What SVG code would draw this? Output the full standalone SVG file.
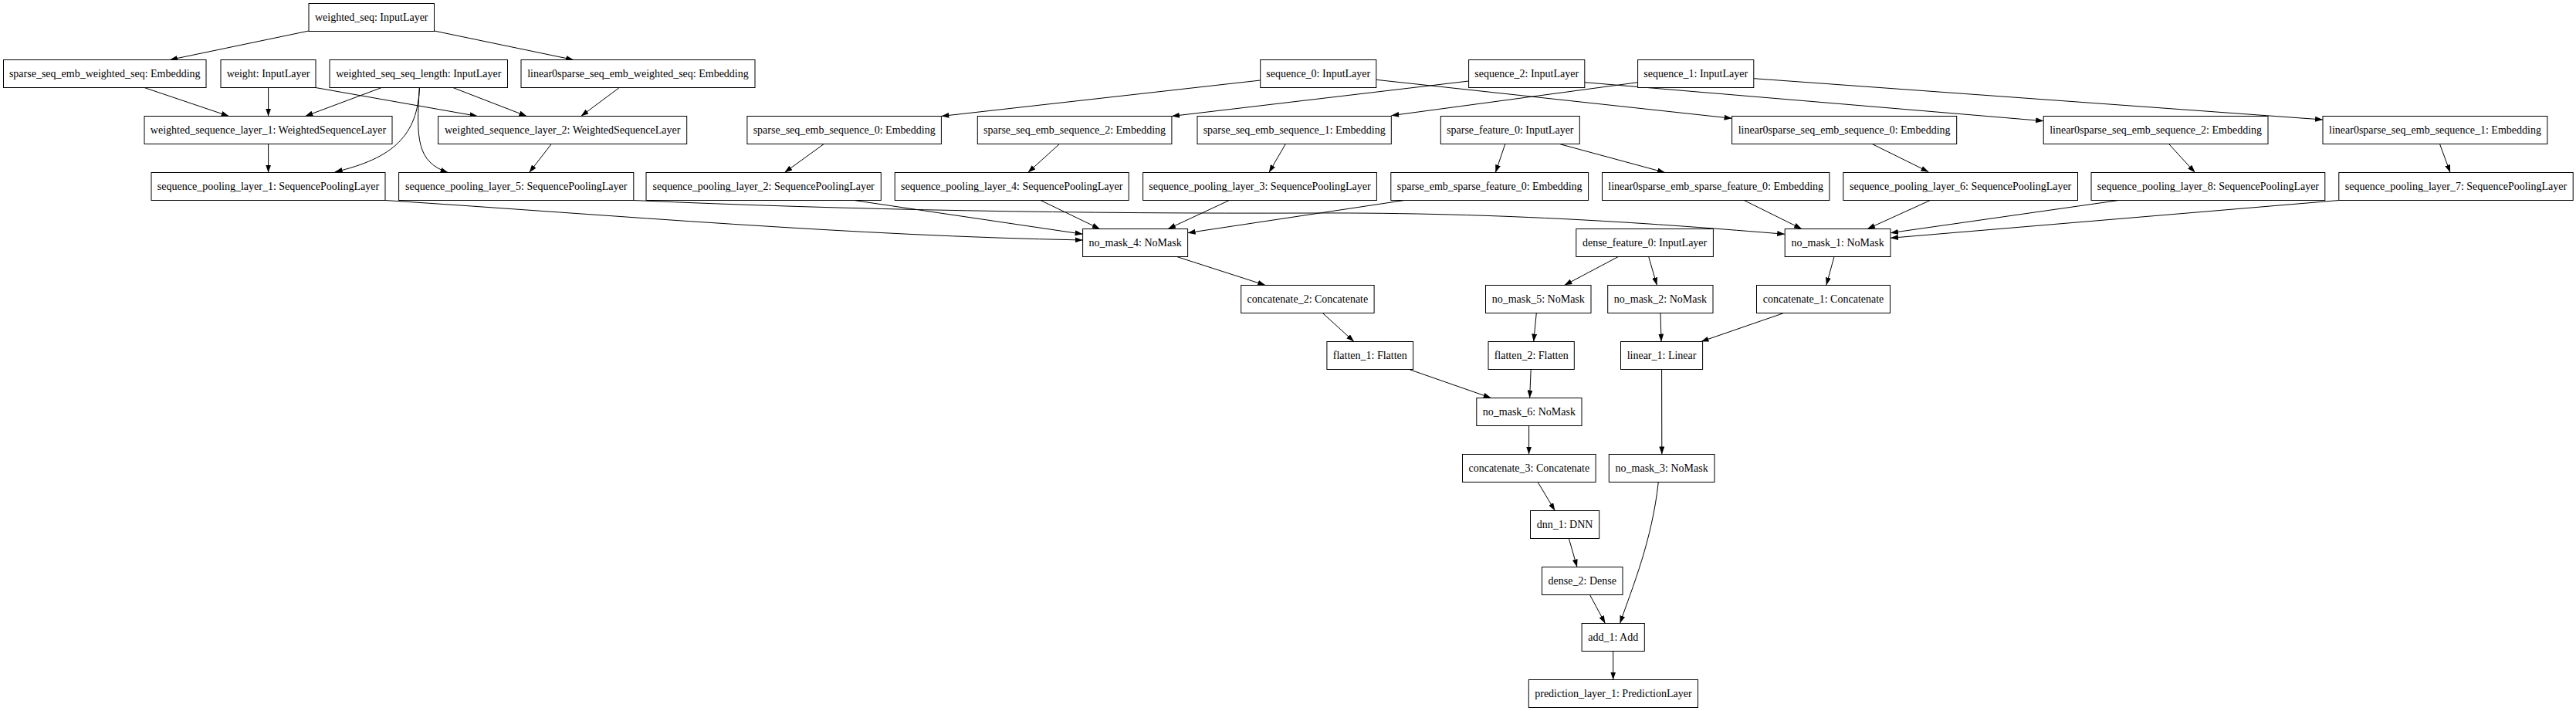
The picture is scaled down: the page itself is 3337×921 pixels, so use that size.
<svg xmlns="http://www.w3.org/2000/svg" width="3337" height="921" viewBox="0 0 3337 921">
<style>
.n rect{fill:#fff;stroke:#000;stroke-width:1}
.n text{font-family:"Liberation Serif","Times New Roman",serif;font-size:14px;text-anchor:middle;fill:#000}
.e path{fill:none;stroke:#000;stroke-width:1;marker-end:url(#ah)}
</style>
<defs>
<marker id="ah" markerUnits="userSpaceOnUse" markerWidth="10" markerHeight="7" refX="10" refY="3.5" orient="auto">
<path d="M0,0 L10,3.5 L0,7 z" fill="#000"/>
</marker>
</defs>
<rect x="0" y="0" width="3337" height="921" fill="#fff"/>
<g id="connectors" class="e">
<path d="M400,40 L220,77.5"/>
<path d="M562.5,40 L743,77.5"/>
<path d="M187,113.5 L296.6,150.5"/>
<path d="M347.6,113.5 L347.6,150.5"/>
<path d="M494.3,113.5 L395.4,150.5"/>
<path d="M408.8,113.5 L618.6,150.5"/>
<path d="M586.7,113.5 L682.4,150.5"/>
<path d="M802.3,113.5 L752.6,150.5"/>
<path d="M347.6,186.5 L347.6,223.5"/>
<path d="M543.4,113.5 C541,175 510,205 433.7,222.8"/>
<path d="M543.4,113.5 C539,180 540,210 580.4,223.5"/>
<path d="M714.3,186.5 L685.6,223.5"/>
<path d="M1632.7,104 L1219.4,150.5"/>
<path d="M1902.6,105 L1517.9,150.5"/>
<path d="M2121.6,106.7 L1802.3,149.7"/>
<path d="M1782.8,103.3 L2243.6,153.3"/>
<path d="M2052.8,106.7 L2647.2,156.7"/>
<path d="M2271.8,101.7 L3009,155"/>
<path d="M1067.3,186.5 L1016.3,223.5"/>
<path d="M1372.4,186.5 L1331.6,223.5"/>
<path d="M1665.3,186.5 L1643.9,223.5"/>
<path d="M1949.8,186.5 L1937.3,223.5"/>
<path d="M2020.2,186.5 L2156.9,223.5"/>
<path d="M2425.2,186.5 L2498.4,222.7"/>
<path d="M2809.6,186.5 L2843.5,223.5"/>
<path d="M3160.5,186.5 L3174.1,223.5"/>
<path d="M499,259.5 C799,279 1102.6,305.3 1402.6,311"/>
<path d="M1106.5,259.5 L1402.6,303.3"/>
<path d="M1348,259.5 L1424.7,296.5"/>
<path d="M1592.4,259.5 L1513,296.5"/>
<path d="M1819,259.5 L1538.6,301.7"/>
<path d="M820.8,259.5 C1100,272 1400,277 1700,276 C1950,275 2150,290 2312.2,303.3"/>
<path d="M2259.3,259.5 L2334,296.5"/>
<path d="M2500.4,259.5 L2419,296.5"/>
<path d="M2744.4,259.5 L2449,301.7"/>
<path d="M3030,259.5 L2449,308.3"/>
<path d="M1524.5,332.5 L1639.3,369.5"/>
<path d="M1713.3,405.5 L1754,442.5"/>
<path d="M1825.5,478.5 L1931.6,515.5"/>
<path d="M2096.4,332.5 L2026.5,369.5"/>
<path d="M2135.7,332.5 L2146.4,369.5"/>
<path d="M2376,332.5 L2365.8,369.5"/>
<path d="M1990.3,405.5 L1986.7,442.5"/>
<path d="M2151,405.5 L2152,442.5"/>
<path d="M2310.7,405.5 L2203.6,442.5"/>
<path d="M1983.2,478.5 L1981.6,515.5"/>
<path d="M2152.6,478.5 L2152.8,588.5"/>
<path d="M1980.6,551.5 L1980.6,588.5"/>
<path d="M1992.1,624.5 L2014.3,661.5"/>
<path d="M2032.3,697.5 L2043,734.5"/>
<path d="M2059.5,770.5 L2079.4,807.5"/>
<path d="M2148.3,624.5 C2140,700 2115,760 2098.5,807.5"/>
<path d="M2089.7,843.5 L2089.7,880.5"/>
</g>
<g id="weighted_seq" class="n"><rect x="400" y="4.5" width="162.5" height="36"/><text x="481.25" y="27.2">weighted_seq: InputLayer</text></g>
<g id="sparse_seq_emb_weighted_seq" class="n"><rect x="4.5" y="77.5" width="262.5" height="36"/><text x="135.75" y="100.2">sparse_seq_emb_weighted_seq: Embedding</text></g>
<g id="weight" class="n"><rect x="286" y="77.5" width="123" height="36"/><text x="347.5" y="100.2">weight: InputLayer</text></g>
<g id="weighted_seq_seq_length" class="n"><rect x="427" y="77.5" width="230.5" height="36"/><text x="542.25" y="100.2">weighted_seq_seq_length: InputLayer</text></g>
<g id="linear0sparse_seq_emb_weighted_seq" class="n"><rect x="675" y="77.5" width="303" height="36"/><text x="826.5" y="100.2">linear0sparse_seq_emb_weighted_seq: Embedding</text></g>
<g id="sequence_0" class="n"><rect x="1632.7" y="77.5" width="150.1" height="36"/><text x="1707.75" y="100.2">sequence_0: InputLayer</text></g>
<g id="sequence_2" class="n"><rect x="1902.6" y="77.5" width="150.2" height="36"/><text x="1977.7" y="100.2">sequence_2: InputLayer</text></g>
<g id="sequence_1" class="n"><rect x="2121.6" y="77.5" width="150.2" height="36"/><text x="2196.7" y="100.2">sequence_1: InputLayer</text></g>
<g id="weighted_sequence_layer_1" class="n"><rect x="187" y="150.5" width="321" height="36"/><text x="347.5" y="173.2">weighted_sequence_layer_1: WeightedSequenceLayer</text></g>
<g id="weighted_sequence_layer_2" class="n"><rect x="567.6" y="150.5" width="322.1" height="36"/><text x="728.65" y="173.2">weighted_sequence_layer_2: WeightedSequenceLayer</text></g>
<g id="sparse_seq_emb_sequence_0" class="n"><rect x="967.9" y="150.5" width="251.5" height="36"/><text x="1093.65" y="173.2">sparse_seq_emb_sequence_0: Embedding</text></g>
<g id="sparse_seq_emb_sequence_2" class="n"><rect x="1266.3" y="150.5" width="251.6" height="36"/><text x="1392.1" y="173.2">sparse_seq_emb_sequence_2: Embedding</text></g>
<g id="sparse_seq_emb_sequence_1" class="n"><rect x="1551" y="150.5" width="251.3" height="36"/><text x="1676.65" y="173.2">sparse_seq_emb_sequence_1: Embedding</text></g>
<g id="sparse_feature_0" class="n"><rect x="1866.3" y="150.5" width="180" height="36"/><text x="1956.3" y="173.2">sparse_feature_0: InputLayer</text></g>
<g id="linear0sparse_seq_emb_sequence_0" class="n"><rect x="2243.6" y="150.5" width="291.1" height="36"/><text x="2389.15" y="173.2">linear0sparse_seq_emb_sequence_0: Embedding</text></g>
<g id="linear0sparse_seq_emb_sequence_2" class="n"><rect x="2647.2" y="150.5" width="290.8" height="36"/><text x="2792.6" y="173.2">linear0sparse_seq_emb_sequence_2: Embedding</text></g>
<g id="linear0sparse_seq_emb_sequence_1" class="n"><rect x="3009" y="150.5" width="290.9" height="36"/><text x="3154.45" y="173.2">linear0sparse_seq_emb_sequence_1: Embedding</text></g>
<g id="sequence_pooling_layer_1" class="n"><rect x="196" y="223.5" width="303" height="36"/><text x="347.5" y="246.2">sequence_pooling_layer_1: SequencePoolingLayer</text></g>
<g id="sequence_pooling_layer_5" class="n"><rect x="516.6" y="223.5" width="304.2" height="36"/><text x="668.7" y="246.2">sequence_pooling_layer_5: SequencePoolingLayer</text></g>
<g id="sequence_pooling_layer_2" class="n"><rect x="837" y="223.5" width="304.3" height="36"/><text x="989.15" y="246.2">sequence_pooling_layer_2: SequencePoolingLayer</text></g>
<g id="sequence_pooling_layer_4" class="n"><rect x="1159.2" y="223.5" width="303" height="36"/><text x="1310.7" y="246.2">sequence_pooling_layer_4: SequencePoolingLayer</text></g>
<g id="sequence_pooling_layer_3" class="n"><rect x="1480.6" y="223.5" width="302.8" height="36"/><text x="1632" y="246.2">sequence_pooling_layer_3: SequencePoolingLayer</text></g>
<g id="sparse_emb_sparse_feature_0" class="n"><rect x="1801.8" y="223.5" width="255.8" height="36"/><text x="1929.7" y="246.2">sparse_emb_sparse_feature_0: Embedding</text></g>
<g id="linear0sparse_emb_sparse_feature_0" class="n"><rect x="2075.5" y="223.5" width="294.4" height="36"/><text x="2222.7" y="246.2">linear0sparse_emb_sparse_feature_0: Embedding</text></g>
<g id="sequence_pooling_layer_6" class="n"><rect x="2387.8" y="223.5" width="303.7" height="36"/><text x="2539.65" y="246.2">sequence_pooling_layer_6: SequencePoolingLayer</text></g>
<g id="sequence_pooling_layer_8" class="n"><rect x="2709" y="223.5" width="302.8" height="36"/><text x="2860.4" y="246.2">sequence_pooling_layer_8: SequencePoolingLayer</text></g>
<g id="sequence_pooling_layer_7" class="n"><rect x="3029.8" y="223.5" width="303.4" height="36"/><text x="3181.5" y="246.2">sequence_pooling_layer_7: SequencePoolingLayer</text></g>
<g id="no_mask_4" class="n"><rect x="1402.6" y="296.5" width="136" height="36"/><text x="1470.6" y="319.2">no_mask_4: NoMask</text></g>
<g id="dense_feature_0" class="n"><rect x="2041.8" y="296.5" width="177.6" height="36"/><text x="2130.6" y="319.2">dense_feature_0: InputLayer</text></g>
<g id="no_mask_1" class="n"><rect x="2312.2" y="296.5" width="136.8" height="36"/><text x="2380.6" y="319.2">no_mask_1: NoMask</text></g>
<g id="concatenate_2" class="n"><rect x="1607.7" y="369.5" width="172.4" height="36"/><text x="1693.9" y="392.2">concatenate_2: Concatenate</text></g>
<g id="no_mask_5" class="n"><rect x="1924.5" y="369.5" width="136.5" height="36"/><text x="1992.75" y="392.2">no_mask_5: NoMask</text></g>
<g id="no_mask_2" class="n"><rect x="2082.7" y="369.5" width="136.3" height="36"/><text x="2150.85" y="392.2">no_mask_2: NoMask</text></g>
<g id="concatenate_1" class="n"><rect x="2275.5" y="369.5" width="173" height="36"/><text x="2362" y="392.2">concatenate_1: Concatenate</text></g>
<g id="flatten_1" class="n"><rect x="1718.9" y="442.5" width="111.7" height="36"/><text x="1774.75" y="465.2">flatten_1: Flatten</text></g>
<g id="flatten_2" class="n"><rect x="1928" y="442.5" width="111.3" height="36"/><text x="1983.65" y="465.2">flatten_2: Flatten</text></g>
<g id="linear_1" class="n"><rect x="2099.5" y="442.5" width="106.1" height="36"/><text x="2152.55" y="465.2">linear_1: Linear</text></g>
<g id="no_mask_6" class="n"><rect x="1912.8" y="515.5" width="136.2" height="36"/><text x="1980.9" y="538.2">no_mask_6: NoMask</text></g>
<g id="concatenate_3" class="n"><rect x="1894.5" y="588.5" width="172.6" height="36"/><text x="1980.8" y="611.2">concatenate_3: Concatenate</text></g>
<g id="no_mask_3" class="n"><rect x="2084.3" y="588.5" width="136.7" height="36"/><text x="2152.65" y="611.2">no_mask_3: NoMask</text></g>
<g id="dnn_1" class="n"><rect x="1982.5" y="661.5" width="89.2" height="36"/><text x="2027.1" y="684.2">dnn_1: DNN</text></g>
<g id="dense_2" class="n"><rect x="1997.5" y="734.5" width="104.5" height="36"/><text x="2049.75" y="757.2">dense_2: Dense</text></g>
<g id="add_1" class="n"><rect x="2049.1" y="807.5" width="81.2" height="36"/><text x="2089.7" y="830.2">add_1: Add</text></g>
<g id="prediction_layer_1" class="n"><rect x="1980.3" y="880.5" width="219.2" height="36"/><text x="2089.9" y="903.2">prediction_layer_1: PredictionLayer</text></g>
</svg>
